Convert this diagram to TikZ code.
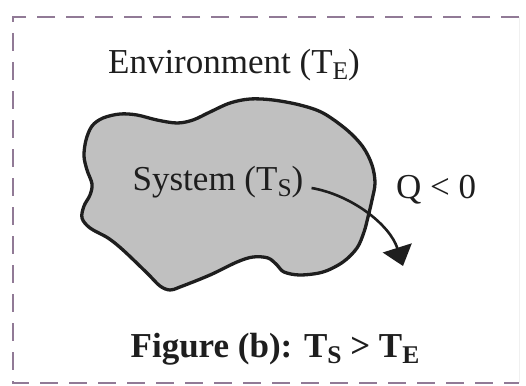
\documentclass[tikz,border=0pt]{standalone}
\usepackage{fontspec}
\setmainfont{Liberation Serif}
\usetikzlibrary{arrows.meta}
\definecolor{bordercol}{RGB}{145,122,150}
\definecolor{blobfill}{RGB}{192,192,192}
\definecolor{inkcol}{RGB}{30,30,30}
\newcommand\lowsub[1]{\raisebox{-6pt}{\fontsize{25.5}{25.5}\selectfont #1}}
\tikzset{
  frameline/.style={draw=bordercol, line width=2.2pt, dash pattern=on 18pt off 11pt},
  label/.style={inner sep=0pt, anchor=base, text=inkcol, font=\fontsize{35}{35}\selectfont},
  caption/.style={label, font=\fontsize{35}{35}\selectfont\bfseries},
  blob/.style={draw=inkcol, fill=blobfill, line width=3.3pt, line join=round},
  heatflow/.style={draw=inkcol, line width=2.6pt, -{Triangle[length=19pt, width=30pt]}}
}
\begin{document}
\begin{tikzpicture}[x=1pt, y=-1pt]
\useasboundingbox (0,0) rectangle (526,385);
% dashed frame
\draw[frameline] (519,17) -- (13,17) -- (13,383) -- (519,383);
\draw[draw=gray!12, line width=1pt] (519.5,17) -- (519.5,383);
% system blob
\draw[blob] plot[smooth cycle, tension=0.55] coordinates {
 (86,140) (92,126) (103,118) (120,114) (137,115) (157,120) (177,123)
 (193,120) (210,112) (230,103) (250,99) (273,100) (300,105) (323,113)
 (347,130) (363,147) (372,165) (375,183) (372,200) (368,217) (364,232)
 (357,248) (343,262) (323,272) (300,275) (284,272) (277,265) (268,258)
 (253,257) (237,262) (210,275) (180,287) (170,290) (160,286) (147,273)
 (123,250) (108,238) (90,228) (82,218) (84,206) (90,195) (92,184)
 (87,170) (84,156)};
% labels
\node[label] (env) at (234,74) {Environment (T\lowsub{E})};
\node[label] (sys) at (218,190) {System (T\lowsub{S})};
\node[label] (q) at (436,198) {Q < 0};
\node[caption] (cap) at (275,357) {Figure (b): T\lowsub{S} > T\lowsub{E}};
% heat flow arrow
\coordinate (qstart) at ([xshift=8pt, yshift=2pt]sys.base east);
\coordinate (qend) at (403,266);
\draw[heatflow] (qstart) .. controls (352,195) and (390,225) .. (qend);
\end{tikzpicture}
\end{document}
